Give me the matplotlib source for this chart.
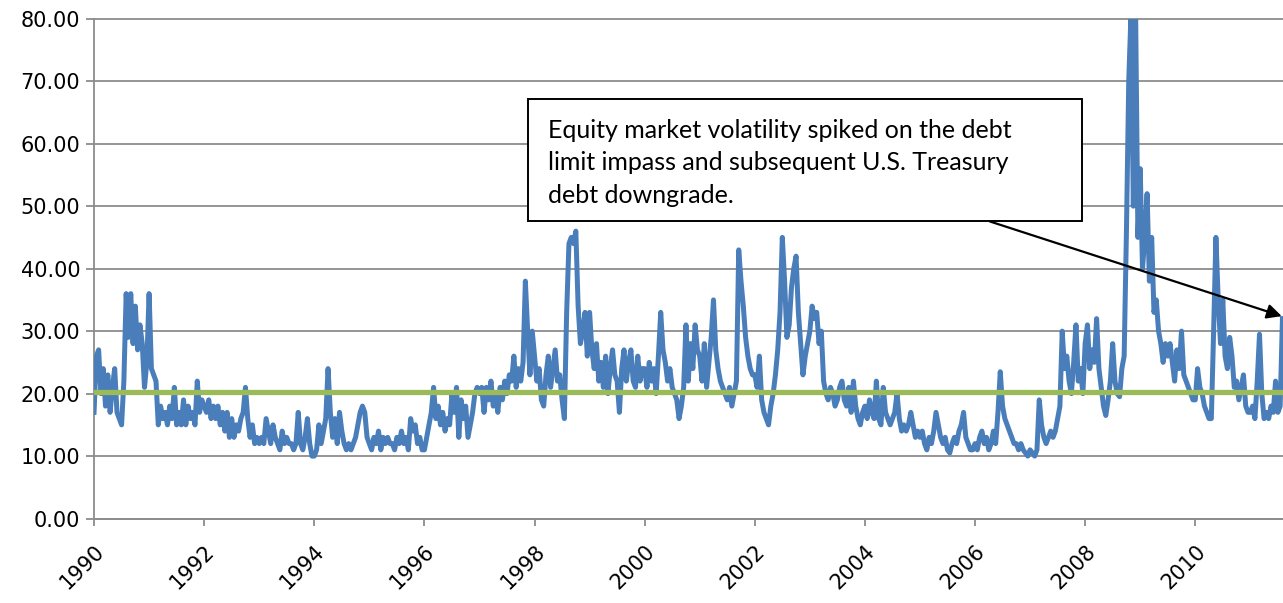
import numpy as np
import matplotlib
matplotlib.use("Agg")
import matplotlib.pyplot as plt
from matplotlib.patches import Rectangle
from matplotlib.transforms import ScaledTranslation

# Semi-monthly readings of equity market volatility (VIX), starting Jan 1990
vix_1990 = [17, 26, 27, 20, 24, 18, 23, 17, 21, 24, 17, 16, 15, 22, 36, 29, 36, 28, 34, 27, 31, 28, 21, 25]
vix_1991 = [36, 24, 23, 22, 15, 18, 16, 17, 15, 18, 16, 21, 15, 17, 15, 19, 15, 18, 16, 17, 15, 22, 17, 19]
vix_1992 = [18, 17, 19, 16, 18, 16, 18, 15, 17, 14, 17, 13, 16, 13, 15, 14, 16, 17, 21, 16, 13, 15, 12, 13]
vix_1993 = [12, 13, 12, 16, 14, 12, 15, 13, 12, 11, 14, 12, 13, 12, 12, 11, 12, 17, 12, 11, 13, 16, 12, 10]
vix_1994 = [10, 11, 15, 12, 14, 16, 24, 17, 13, 16, 12, 17, 14, 12, 11, 12, 11, 12, 13, 15, 17, 18, 17, 13]
vix_1995 = [12, 11, 13, 12, 14, 11, 13, 12, 13, 12, 12, 11, 13, 12, 14, 12, 13, 11, 16, 14, 15, 12, 13, 11]
vix_1996 = [11, 13, 15, 17, 21, 16, 18, 15, 17, 14, 16, 15, 20, 17, 21, 13, 19, 16, 18, 13, 15, 17, 20, 21]
vix_1997 = [20, 21, 17, 21, 19, 22, 18, 20, 17, 21, 19, 22, 20, 23, 22, 26, 21, 24, 22, 25, 38, 30, 23, 30]
vix_1998 = [26, 22, 24, 19, 18, 23, 26, 21, 24, 27, 22, 23, 19, 16, 33, 44, 45, 44, 46, 34, 28, 30, 33, 26]
vix_1999 = [33, 27, 24, 28, 22, 25, 21, 26, 20, 24, 27, 23, 22, 17, 24, 27, 22, 25, 27, 22, 21, 26, 22, 24]
vix_2000 = [24, 21, 25, 22, 24, 20, 26, 33, 27, 25, 22, 24, 21, 20, 19, 16, 18, 21, 31, 22, 28, 24, 31, 27]
vix_2001 = [26, 22, 28, 21, 25, 29, 35, 27, 24, 22, 21, 20, 19, 21, 18, 20, 22, 43, 38, 34, 29, 26, 24, 23]
vix_2002 = [23, 21, 26, 19, 17, 16, 15, 18, 20, 23, 27, 33, 45, 38, 29, 31, 37, 40, 42, 33, 28, 23, 26, 28]
vix_2003 = [30, 34, 32, 33, 28, 30, 22, 20, 19, 21, 20, 18, 19, 21, 22, 19, 18, 21, 17, 22, 18, 16, 15, 17]
vix_2004 = [18, 16, 19, 17, 16, 22, 16, 15, 21, 17, 16, 15, 16, 17, 20, 16, 14, 15, 14, 15, 17, 15, 13, 14]
vix_2005 = [13, 14, 12, 11, 13, 12, 14, 17, 15, 13, 12, 13, 11, 10.5, 12, 13, 12, 14, 15, 17, 13, 12, 11, 11]
vix_2006 = [12, 11, 13, 14, 12, 13, 11, 12, 14, 12, 17, 23.5, 18, 16, 15, 14, 13, 12, 12, 11, 12, 11, 10.5, 10]
vix_2007 = [11, 10.5, 10, 11, 19, 15, 13, 12, 13, 14, 13, 14, 16, 18, 30, 24, 26, 22, 20, 25, 31, 22, 24, 20]
vix_2008 = [28, 31, 24, 27, 25, 32, 24, 21, 18, 16.5, 19, 22, 28, 22, 20, 19.5, 24, 26, 46, 70, 81, 50, 81, 45]
vix_2009 = [56, 40, 45, 52, 38, 45, 33, 35, 30, 28, 25, 28, 26, 28, 25, 22, 27, 24, 30, 23, 22, 21, 20, 19]
vix_2010 = [19, 24, 21, 20, 18, 17, 16, 16, 30, 45, 35, 28, 35, 26, 24, 29, 26, 21, 22, 19, 21, 23, 18, 17]
vix_2011 = [17, 18, 16, 22, 29.5, 20, 16, 17, 16, 18, 17, 22, 17, 18, 32]

long_run_average = 20.3
start_year = 1990
points_per_year = 24

year_ticks = list(range(1990, 2011, 2))
y_ticks = [0, 10, 20, 30, 40, 50, 60, 70, 80]

annotation_text = ("Equity market volatility spiked on the debt\n"
                   "limit impass and subsequent U.S. Treasury\n"
                   "debt downgrade.")

values = np.array(vix_1990 + vix_1991 + vix_1992 + vix_1993 + vix_1994 + vix_1995 +
                  vix_1996 + vix_1997 + vix_1998 + vix_1999 + vix_2000 + vix_2001 +
                  vix_2002 + vix_2003 + vix_2004 + vix_2005 + vix_2006 + vix_2007 +
                  vix_2008 + vix_2009 + vix_2010 + vix_2011, dtype=float)
x = start_year + np.arange(len(values)) / points_per_year

fig = plt.figure(figsize=(12.83, 6.03), dpi=100)
ax = fig.add_axes([0.0733, 0.140, 0.9267, 0.829])

grid_color = "#8c8c8c"
ax.set_ylim(0, 80)
ax.set_xlim(1990, x[-1] + 0.01)
ax.set_yticks(y_ticks)
ax.set_yticklabels([f"{v:.2f}" for v in y_ticks])
ax.set_xticks(year_ticks)
ax.set_xticklabels([str(y) for y in year_ticks], rotation=45, ha="right",
                   va="top", rotation_mode="anchor")
shift = ScaledTranslation(8 / 72, 0, fig.dpi_scale_trans)
for lbl in ax.get_xticklabels():
    lbl.set_transform(lbl.get_transform() + shift)
ax.yaxis.grid(True, color=grid_color, linewidth=1.3, clip_on=False)
ax.set_axisbelow(True)
for side in ["top", "right"]:
    ax.spines[side].set_visible(False)
for side in ["left", "bottom"]:
    ax.spines[side].set_color(grid_color)
    ax.spines[side].set_linewidth(1.3)
ax.tick_params(axis="y", direction="out", length=6, width=1.3, color=grid_color,
               labelsize=15, pad=4)
ax.tick_params(axis="x", direction="out", length=5, width=1.3, color=grid_color,
               labelsize=15, pad=11)

ax.plot(x, values, color="#4a7ebb", linewidth=3.6, solid_joinstyle="round", zorder=3)
ax.axhline(long_run_average, color="#9bbb59", linewidth=3.8, zorder=4)

# Annotation box
box = Rectangle((1997.88, 47.55), 10.06, 19.65, facecolor="white",
                edgecolor="black", linewidth=1.4, zorder=6)
ax.add_patch(box)
ax.text(1998.24, 63.9, annotation_text, fontsize=18, family="Lato",
        va="top", ha="left", linespacing=1.48, zorder=7)
ax.annotate("", xy=(2011.57, 32.4), xytext=(2006.27, 47.55),
            arrowprops=dict(arrowstyle="-|>", color="black", lw=1.6,
                            mutation_scale=22, shrinkA=0, shrinkB=0),
            zorder=5)

fig.savefig("out.png", dpi=100)
